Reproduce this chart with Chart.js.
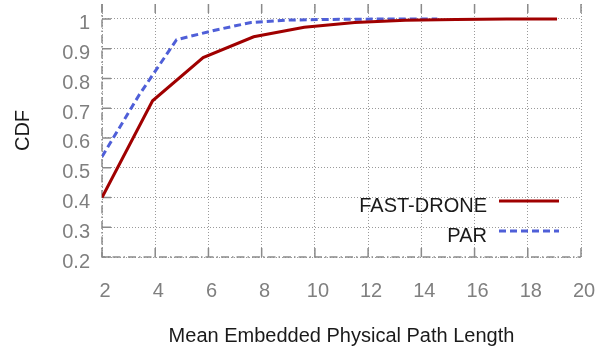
<!DOCTYPE html>
<html>
<head>
<meta charset="utf-8">
<script src="https://cdn.jsdelivr.net/npm/chart.js@4.4.0/dist/chart.umd.min.js"></script>
<style>
  html, body { margin: 0; padding: 0; background: #fff; }
</style>
</head>
<body>
<canvas id="cdfChart" width="608" height="349"></canvas>
<script>
// tick values
const xTicks = [2, 4, 6, 8, 10, 12, 14, 16, 18, 20];
const yTicks = [0.2, 0.3, 0.4, 0.5, 0.6, 0.7, 0.8, 0.9, 1];

// FAST-DRONE samples
const fastX = [2, 3.9, 5.8, 7.7, 9.6, 11.5, 13.4, 15.3, 17.2, 19.1];
const fastY = [0.40, 0.725, 0.87, 0.94, 0.972, 0.988, 0.995, 0.998, 1.0, 1.0];

// PAR samples
const parX = [2, 3.4, 4.8, 6.2, 7.6, 9.0, 10.4, 11.8, 13.2, 14.6];
const parY = [0.537, 0.745, 0.93, 0.961, 0.988, 0.996, 0.998, 0.999, 1.0, 1.0];

const toPoints = (xs, ys) => xs.map((x, i) => ({ x: x, y: ys[i] }));

const AXIS_GRAY = '#8a8a8a';
const FONT = "'Liberation Sans', Arial, Helvetica, sans-serif";

// gnuplot-like frame: dash-dot left/bottom borders, inward tick marks, legend inside plot
const framePlugin = {
    id: 'frame',
    beforeDatasetsDraw(chart) {
        const { ctx, chartArea: a, scales: { x, y } } = chart;
        ctx.save();
        ctx.strokeStyle = AXIS_GRAY;
        ctx.lineWidth = 1.5;

        // borders
        ctx.setLineDash([8, 3, 1.5, 3]);
        ctx.beginPath();
        ctx.moveTo(a.left, a.top);
        ctx.lineTo(a.left, a.bottom);
        ctx.lineTo(a.right, a.bottom);
        ctx.stroke();

        // tick marks
        ctx.setLineDash([]);
        ctx.beginPath();
        yTicks.forEach(v => {
            const py = y.getPixelForValue(v);
            ctx.moveTo(a.left, py);
            ctx.lineTo(a.left + 9, py);
        });
        xTicks.forEach(v => {
            const px = x.getPixelForValue(v);
            ctx.moveTo(px, a.bottom);
            ctx.lineTo(px, a.bottom - 9);
            ctx.moveTo(px, a.top);
            ctx.lineTo(px, a.top + 9);
        });
        ctx.stroke();
        ctx.restore();
    },
    afterDraw(chart) {
        const { ctx, chartArea: a } = chart;
        ctx.save();
        ctx.font = '20px ' + FONT;
        ctx.textAlign = 'right';
        ctx.textBaseline = 'middle';
        chart.data.datasets.forEach((ds, i) => {
            const ly = 201 + i * 30;
            ctx.fillStyle = '#1a1a1a';
            ctx.fillText(ds.label, a.right - 94, ly + 5);
            ctx.strokeStyle = ds.borderColor;
            ctx.lineWidth = ds.borderWidth;
            ctx.setLineDash(ds.borderDash || []);
            ctx.beginPath();
            ctx.moveTo(a.right - 82, ly);
            ctx.lineTo(a.right - 22, ly);
            ctx.stroke();
        });
        ctx.restore();
    }
};

Chart.defaults.font.family = FONT;
Chart.defaults.font.size = 20;

new Chart(document.getElementById('cdfChart'), {
    type: 'line',
    data: {
        datasets: [
            {
                label: 'FAST-DRONE',
                data: toPoints(fastX, fastY),
                borderColor: '#a00000',
                borderWidth: 3,
                pointRadius: 0,
                tension: 0,
                fill: false
            },
            {
                label: 'PAR',
                data: toPoints(parX, parY),
                borderColor: '#4f5fd8',
                borderWidth: 3,
                borderDash: [7, 4],
                pointRadius: 0,
                tension: 0,
                fill: false
            }
        ]
    },
    options: {
        responsive: false,
        animation: false,
        layout: { padding: { top: 4, right: 27, left: 0, bottom: 0 } },
        plugins: {
            legend: { display: false },
            tooltip: { enabled: false }
        },
        scales: {
            x: {
                type: 'linear',
                min: 2,
                max: 20,
                afterBuildTicks: s => { s.ticks = xTicks.map(v => ({ value: v })); },
                afterFit: s => { s.height = 92; s.paddingLeft = 0; s.paddingRight = 0; },
                grid: { color: '#9a9a9a', lineWidth: 1, drawTicks: false },
                border: { display: false, dash: [1, 2] },
                ticks: {
                    color: '#7f7f7f',
                    padding: 22,
                    labelOffset: 3,
                    maxRotation: 0,
                    autoSkip: false
                },
                title: {
                    display: true,
                    text: 'Mean Embedded Physical Path Length',
                    color: '#1a1a1a',
                    padding: { top: 0, bottom: 1 }
                }
            },
            y: {
                min: 0.2,
                max: 1.05,
                afterBuildTicks: s => { s.ticks = yTicks.map(v => ({ value: v })); },
                afterFit: s => { s.width = 102; s.paddingTop = 0; s.paddingBottom = 0; },
                grid: { color: '#9a9a9a', lineWidth: 1, drawTicks: false },
                border: { display: false, dash: [1, 2] },
                ticks: {
                    color: '#7f7f7f',
                    padding: 12,
                    labelOffset: 5,
                    autoSkip: false,
                    callback: v => String(Math.round(v * 10) / 10)
                },
                title: {
                    display: true,
                    text: 'CDF',
                    color: '#1a1a1a',
                    padding: { top: 11, bottom: 0 }
                }
            }
        }
    },
    plugins: [framePlugin]
});
</script>
</body>
</html>
